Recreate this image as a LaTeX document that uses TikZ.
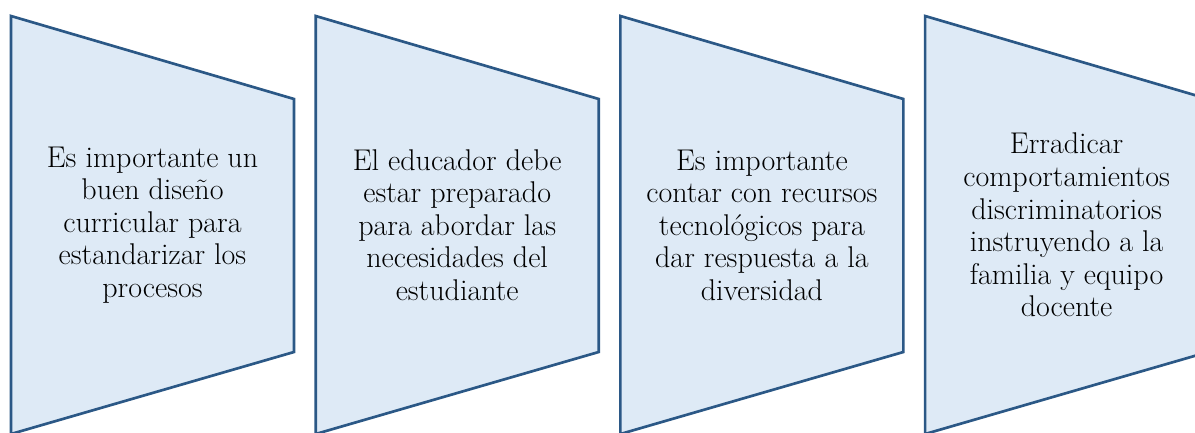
\documentclass[tikz,border=0pt]{standalone}
\usepackage{fontspec}
\usetikzlibrary{positioning}

\definecolor{panelfill}{HTML}{DEEAF6}
\definecolor{paneledge}{HTML}{2B5886}

\begin{document}
\begin{tikzpicture}[x=0.75pt,y=-0.75pt,
	panel/.style={draw=paneledge,fill=panelfill,line width=2pt,line join=miter},
	paneltext/.style={align=center,font=\fontsize{22.5}{24.4}\selectfont,inner sep=0pt}]
	\useasboundingbox (0,0) rectangle (1195,432);
	\clip (0,0) rectangle (1195,432);

	% four chevron-like panels
	\draw[panel] (11,16) -- (294,99) -- (294,352) -- (11,434) -- cycle;
	\draw[panel] (315.7,16) -- (598.7,99) -- (598.7,352) -- (315.7,434) -- cycle;
	\draw[panel] (620.4,16) -- (903.4,99) -- (903.4,352) -- (620.4,434) -- cycle;
	\draw[panel] (925.1,16) -- (1208.1,99) -- (1208.1,352) -- (925.1,434) -- cycle;

	\node[paneltext] (diseno) at (152.5,225) {Es importante un\\buen diseño\\curricular para\\estandarizar los\\procesos};
	\node[paneltext] (educador) at (457.2,225) {El educador debe\\estar preparado\\para abordar las\\necesidades del\\estudiante};
	\node[paneltext] (recursos) at (761.9,225) {Es importante\\contar con recursos\\tecnológicos para\\dar respuesta a la\\diversidad};
	\node[paneltext] (familia) at (1066.6,225) {Erradicar\\comportamientos\\discriminatorios\\instruyendo a la\\familia y equipo\\docente};

\end{tikzpicture}
\end{document}
